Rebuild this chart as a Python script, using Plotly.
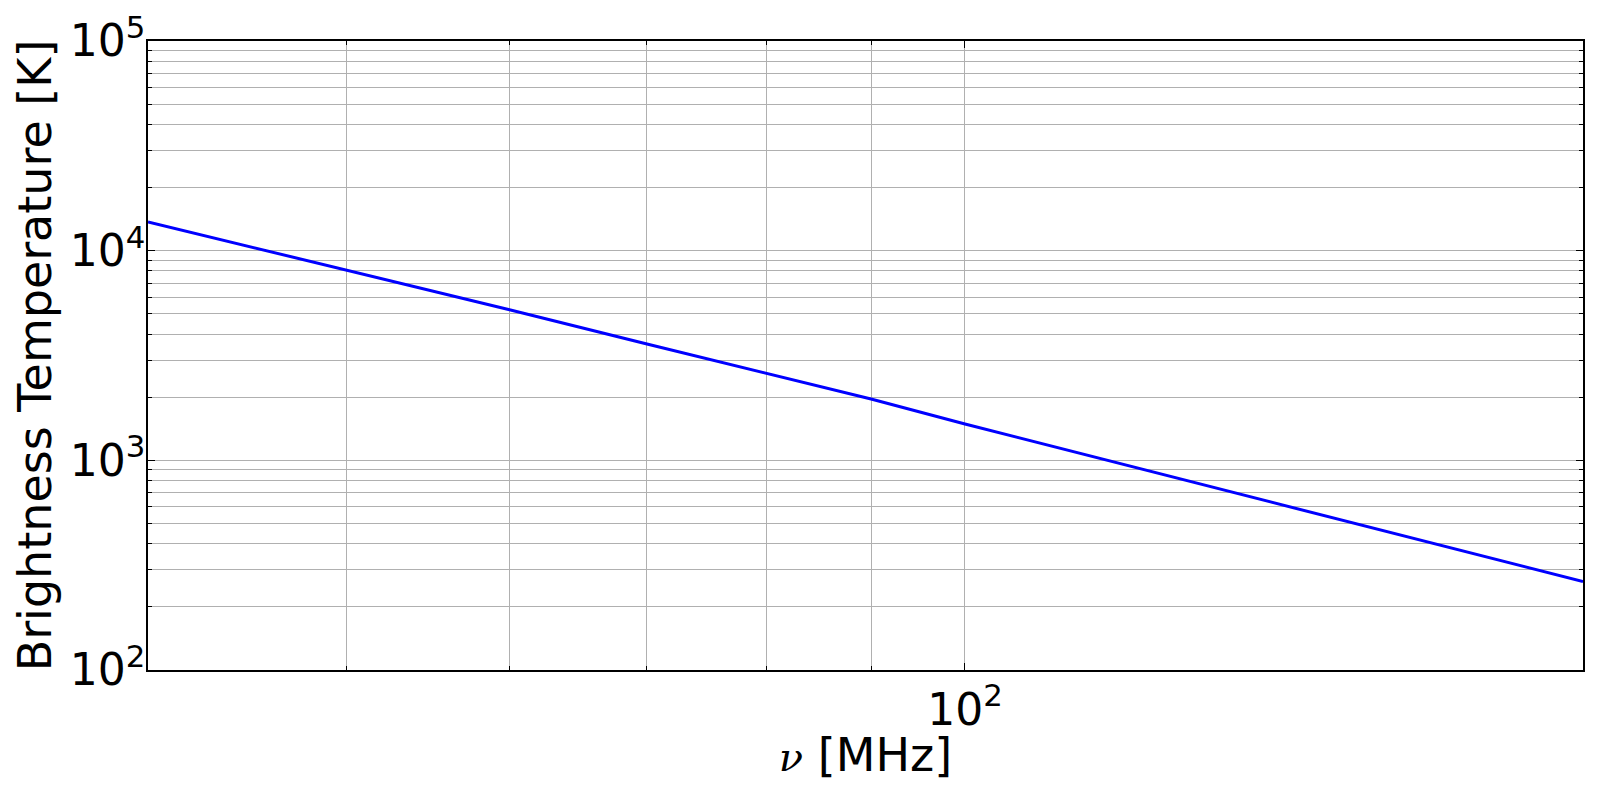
import plotly.graph_objects as go

# Data (frequency in MHz, brightness temperature in K)
freq_mhz = [40, 50, 60, 70, 80, 90, 100, 125, 138, 150, 175, 200]
temp_k = [13700, 8070, 5230, 3590, 2595, 1960, 1490, 853, 670, 545, 368, 264]

x_major_vals = [100]
x_major_text = ["10<sup>2</sup>"]
x_minor_vals = [50, 60, 70, 80, 90]

y_major_vals = [100, 1000, 10000, 100000]
y_major_text = ["10<sup>2</sup>", "10<sup>3</sup>", "10<sup>4</sup>", "10<sup>5</sup>"]
y_minor_vals = [m * d for d in (100, 1000, 10000) for m in range(2, 10)]

FONT = "DejaVu Sans"
GRID = "#b0b0b0"

# the page body has an 8px default margin; size the figure to fit inside it
W, H = 1584, 774

fig = go.Figure()
fig.add_trace(go.Scatter(
    x=freq_mhz, y=temp_k, mode="lines",
    line=dict(color="#0000ff", width=3),
    showlegend=False,
))

common = dict(
    showline=True, linecolor="black", linewidth=1.5, mirror="allticks",
    ticks="inside", ticklen=7, tickwidth=1, tickcolor="black",
    showgrid=True, gridcolor=GRID, gridwidth=1,
    tickfont=dict(family=FONT, size=44, color="black"),
    zeroline=False, automargin=False,
)

fig.update_xaxes(
    type="log", range=[1.60206, 2.30103],
    tickmode="array", tickvals=x_major_vals, ticktext=x_major_text,
    minor=dict(tickmode="array", tickvals=x_minor_vals, ticks="inside", ticklen=4,
               tickcolor="black", showgrid=True, gridcolor=GRID, gridwidth=1),
    title=dict(text='<span style="font-family:DejaVu Serif;font-size:40px"><i>ν</i></span> [MHz]',
               font=dict(family=FONT, size=46, color="black"), standoff=6),
    **common,
)
fig.update_yaxes(
    type="log", range=[2, 5],
    tickmode="array", tickvals=y_major_vals, ticktext=y_major_text,
    ticklabelstandoff=-8,
    minor=dict(tickmode="array", tickvals=y_minor_vals, ticks="inside", ticklen=4,
               tickcolor="black", showgrid=True, gridcolor=GRID, gridwidth=1),
    title=dict(text="Brightness Temperature [K]",
               font=dict(family=FONT, size=46, color="black"), standoff=14),
    **common,
)

fig.update_layout(
    width=W, height=H,
    margin=dict(l=140, r=9, t=33, b=112),
    plot_bgcolor="white", paper_bgcolor="white",
    font=dict(family=FONT, color="black"),
)

fig.write_html("out.html")
